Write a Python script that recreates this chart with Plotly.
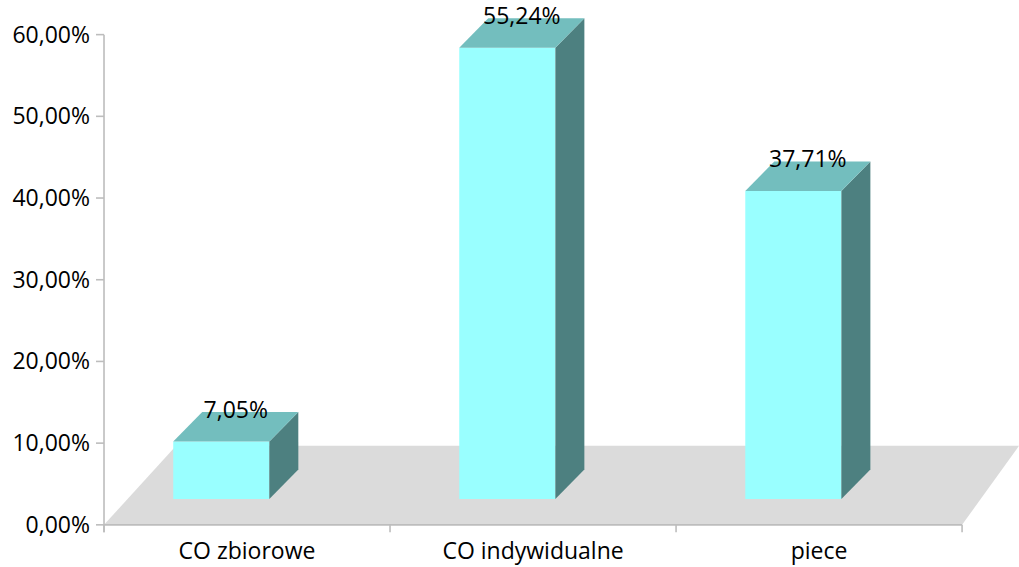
import plotly.graph_objects as go

# ---- data ----
categories = ["CO zbiorowe", "CO indywidualne", "piece"]
values = [7.05, 55.24, 37.71]
y_ticks = [0, 10, 20, 30, 40, 50, 60]
y_tick_labels = [f"{t:.2f}".replace(".", ",") + "%" for t in y_ticks]
bar_labels = [f"{v:.2f}".replace(".", ",") + "%" for v in values]

# ---- style / pseudo-3D geometry (in axis units) ----
FRONT = "#99FFFF"
TOP = "#73BEBE"
SIDE = "#4D8080"
FLOOR = "#DBDBDB"
AXIS = "#BDBDBD"
FONT = dict(family="Open Sans", size=23, color="#000000")

BASE = 3.15          # front face bottom (depth shift of the bar)
BAR_OFFSET = -0.258  # left edge of front face relative to category
BAR_WIDTH = 0.336
DX = 0.1014          # bar depth, horizontal
DY = 3.61            # bar depth, vertical
FLOOR_DEPTH = 9.67
FLOOR_BACK_LEFT = -0.248
X_RANGE = [-0.535, 2.699]
Y_RANGE = [-1, 63.26]

xs = list(range(len(categories)))

fig = go.Figure()

# front faces
fig.add_trace(go.Bar(
    x=xs, y=values, base=BASE, offset=BAR_OFFSET, width=BAR_WIDTH,
    marker=dict(color=FRONT, line=dict(width=0)), hoverinfo="skip",
    showlegend=False,
))

# side and top faces
for i, v in zip(xs, values):
    L = i + BAR_OFFSET
    R = L + BAR_WIDTH
    B = BASE
    T = BASE + v
    fig.add_trace(go.Scatter(
        x=[R, R, R + DX, R + DX, R], y=[B, T, T + DY, B + DY, B],
        mode="lines", fill="toself", fillcolor=SIDE, line=dict(width=0, color=SIDE),
        hoverinfo="skip", showlegend=False,
    ))
    fig.add_trace(go.Scatter(
        x=[L, R, R + DX, L + DX, L], y=[T, T, T + DY, T + DY, T],
        mode="lines", fill="toself", fillcolor=TOP, line=dict(width=0, color=TOP),
        hoverinfo="skip", showlegend=False,
    ))

# data labels
fig.add_trace(go.Scatter(
    x=[i + BAR_OFFSET + BAR_WIDTH / 2 + DX / 2 for i in xs],
    y=[v + BASE + DY for v in values],
    mode="text", text=bar_labels, textposition="middle center",
    textfont=FONT, cliponaxis=False, hoverinfo="skip", showlegend=False,
))

shapes = []
# floor
shapes.append(dict(
    type="path", xref="x", yref="y", layer="below",
    path=f"M -0.5 0 L 2.5 0 L {X_RANGE[1]} {FLOOR_DEPTH} L {FLOOR_BACK_LEFT} {FLOOR_DEPTH} Z",
    fillcolor=FLOOR, line=dict(width=0),
))
# y axis line and ticks
shapes.append(dict(type="line", xref="x", yref="y", x0=-0.5, x1=-0.5, y0=-0.9, y1=60,
                   line=dict(color=AXIS, width=1.6)))
for t in y_ticks:
    shapes.append(dict(type="line", xref="x", yref="y", x0=-0.528, x1=-0.5, y0=t, y1=t,
                       line=dict(color=AXIS, width=1.6)))
# x axis line and boundary ticks
shapes.append(dict(type="line", xref="x", yref="y", x0=-0.5, x1=2.5, y0=0, y1=0,
                   line=dict(color=AXIS, width=1.6)))
for b in [-0.5, 0.5, 1.5, 2.5]:
    shapes.append(dict(type="line", xref="x", yref="y", x0=b, x1=b, y0=0, y1=-0.9,
                       line=dict(color=AXIS, width=1.6)))

fig.update_layout(
    width=1019, height=567,
    margin=dict(l=94, r=0, t=8, b=34),
    paper_bgcolor="white", plot_bgcolor="white",
    shapes=shapes,
    font=FONT,
    xaxis=dict(range=X_RANGE, tickvals=xs, ticktext=categories, showgrid=False,
               zeroline=False, showline=False, ticks="", tickfont=FONT,
               ticklabelstandoff=2, automargin=False),
    yaxis=dict(range=Y_RANGE, tickvals=y_ticks, ticktext=y_tick_labels, showgrid=False,
               zeroline=False, showline=False, ticks="", tickfont=FONT,
               ticklabelstandoff=3, automargin=False),
)

fig.write_html("out.html")
